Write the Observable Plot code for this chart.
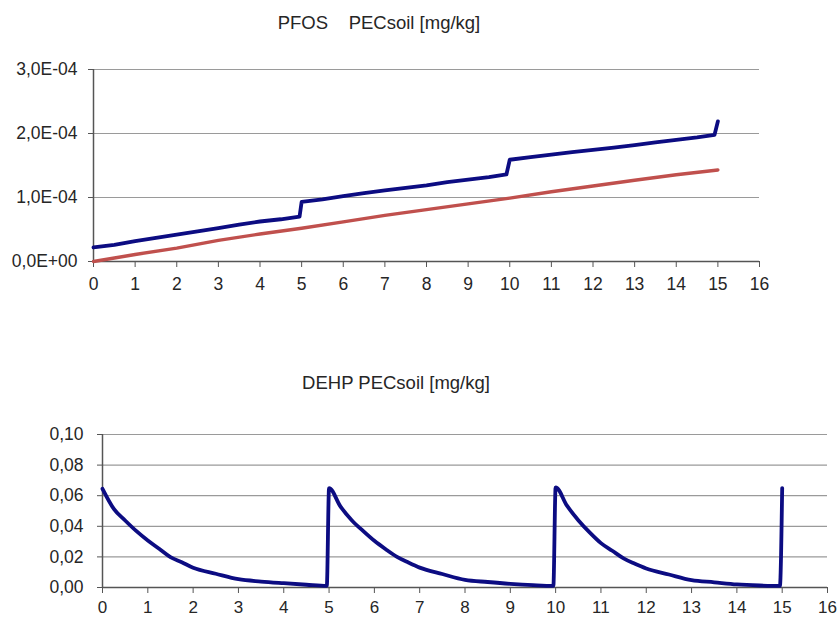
<!DOCTYPE html>
<html>
<head>
<meta charset="utf-8">
<script src="https://cdn.jsdelivr.net/npm/d3@7"></script>
<script src="https://cdn.jsdelivr.net/npm/@observablehq/plot@0.6"></script>
<style>
  html, body { margin: 0; padding: 0; background: #fff; }
  #wrap { position: relative; width: 838px; height: 618px; font-family: "Liberation Sans", Arial, sans-serif; color: #262626; }
  .title { position: absolute; font-size: 18.5px; white-space: pre; transform: translate(-50%, -50%); line-height: 1; }
  .chart { position: absolute; left: 0; }
</style>
</head>
<body>
<div id="wrap">
  <div class="title" id="t1" style="left:379px; top:23px;"></div>
  <div class="chart" id="c1" style="top:0px;"></div>
  <div class="title" id="t2" style="left:396px; top:383px;"></div>
  <div class="chart" id="c2" style="top:330px;"></div>
</div>
<script>
// ---- Data ----
const pfosTitle = "PFOS    PECsoil [mg/kg]";
const dehpTitle = "DEHP PECsoil [mg/kg]";
const xTicks = [0, 1, 2, 3, 4, 5, 6, 7, 8, 9, 10, 11, 12, 13, 14, 15, 16];

// PFOS – upper (blue) series
const pfosBlueX = [0, 0.5, 1, 1.5, 2, 2.5, 3, 3.5, 4, 4.5, 4.95, 5.0, 5.5, 6, 6.5, 7, 7.5, 8, 8.5, 9, 9.5, 9.92, 10.0, 10.5, 11, 11.5, 12, 12.5, 13, 13.5, 14, 14.5, 14.92, 15.0];
const pfosBlueY = [2.2e-5, 2.6e-5, 3.2e-5, 3.7e-5, 4.2e-5, 4.7e-5, 5.2e-5, 5.75e-5, 6.25e-5, 6.6e-5, 7.0e-5, 9.3e-5, 9.7e-5, 1.02e-4, 1.07e-4, 1.11e-4, 1.15e-4, 1.19e-4, 1.24e-4, 1.28e-4, 1.32e-4, 1.36e-4, 1.59e-4, 1.63e-4, 1.67e-4, 1.71e-4, 1.745e-4, 1.78e-4, 1.82e-4, 1.86e-4, 1.90e-4, 1.94e-4, 1.98e-4, 2.19e-4];
// PFOS – lower (red) series
const pfosRedX = [0, 1, 2, 3, 4, 5, 6, 7, 8, 9, 10, 11, 12, 13, 14, 15];
const pfosRedY = [0.0, 1.1e-5, 2.1e-5, 3.3e-5, 4.3e-5, 5.2e-5, 6.2e-5, 7.2e-5, 8.1e-5, 9.0e-5, 9.9e-5, 1.09e-4, 1.18e-4, 1.27e-4, 1.355e-4, 1.43e-4];
const pfosYTicks = [0, 1e-4, 2e-4, 3e-4];

// DEHP series
const dehpX = [0, 0.25, 0.5, 0.75, 1, 1.25, 1.5, 1.75, 2, 2.5, 3, 3.5, 4, 4.5, 4.95,
               5.0, 5.25, 5.5, 5.75, 6, 6.25, 6.5, 6.75, 7, 7.5, 8, 8.5, 9, 9.5, 9.95,
               10.0, 10.25, 10.5, 10.75, 11, 11.25, 11.5, 11.75, 12, 12.5, 13, 13.5, 14, 14.5, 14.95, 15.0];
const dehpY = [0.0645, 0.0514, 0.0438, 0.0368, 0.0307, 0.0253, 0.0198, 0.0165, 0.0129, 0.0090, 0.0054, 0.0039, 0.0028, 0.0018, 0.0010,
               0.0650, 0.0530, 0.0440, 0.0370, 0.0305, 0.0250, 0.0200, 0.0163, 0.0130, 0.0088, 0.0050, 0.0036, 0.0024, 0.0015, 0.0010,
               0.0655, 0.0535, 0.0440, 0.0360, 0.0290, 0.0240, 0.0190, 0.0155, 0.0124, 0.0085, 0.0048, 0.0034, 0.0020, 0.0013, 0.0010, 0.0650];
const dehpYTicks = [0, 0.02, 0.04, 0.06, 0.08, 0.10];

// ---- Build tables ----
const blue = pfosBlueX.map((x, i) => ({x, y: pfosBlueY[i]}));
const red = pfosRedX.map((x, i) => ({x, y: pfosRedY[i]}));
const dehp = dehpX.map((x, i) => ({x, y: dehpY[i]}));

const sciFmt = d => d === 0 ? "0,0E+00" : (d / 1e-4).toFixed(1).replace(".", ",") + "E-04";
const decFmt = d => d.toFixed(2).replace(".", ",");

const FS = 17.5;
const baseStyle = {fontFamily: "'Liberation Sans', Arial, sans-serif", fontSize: FS + "px", color: "#262626", background: "transparent", overflow: "visible"};

document.getElementById("t1").textContent = pfosTitle;
document.getElementById("t2").textContent = dehpTitle;

const p1 = Plot.plot({
  width: 838, height: 300,
  marginLeft: 93, marginRight: 79, marginTop: 69, marginBottom: 39,
  style: baseStyle,
  x: {domain: [0, 16]},
  y: {domain: [0, 3e-4]},
  marks: [
    Plot.gridY(pfosYTicks, {stroke: "#9a9a9a", strokeOpacity: 1, strokeWidth: 1.2}),
    Plot.axisY(pfosYTicks, {tickFormat: sciFmt, tickSize: 5, tickPadding: 11, label: null, stroke: "#555", fontSize: FS, fill: "#262626"}),
    Plot.axisX(xTicks, {tickSize: 6, tickPadding: 10, label: null, stroke: "#555", fontSize: FS, fill: "#262626"}),
    Plot.ruleY([0], {stroke: "#555", strokeWidth: 1.5}),
    Plot.ruleX([0], {stroke: "#555", strokeWidth: 1.5}),
    Plot.line(red, {x: "x", y: "y", stroke: "#c0504d", strokeWidth: 3.4, strokeLinejoin: "round"}),
    Plot.line(blue, {x: "x", y: "y", stroke: "#0c0c82", strokeWidth: 3.8, strokeLinejoin: "round"})
  ]
});
document.getElementById("c1").appendChild(p1);

const p2 = Plot.plot({
  width: 838, height: 288,
  marginLeft: 102, marginRight: 11, marginTop: 104, marginBottom: 31,
  style: baseStyle,
  x: {domain: [0, 16]},
  y: {domain: [0, 0.1]},
  marks: [
    Plot.gridY(dehpYTicks, {stroke: "#9a9a9a", strokeOpacity: 1, strokeWidth: 1.2}),
    Plot.axisY(dehpYTicks, {tickFormat: decFmt, tickSize: 5, tickPadding: 14, label: null, stroke: "#555", fontSize: FS, fill: "#262626"}),
    Plot.axisX(xTicks, {tickSize: 6, tickPadding: 7, label: null, stroke: "#555", fontSize: 17, fill: "#262626"}),
    Plot.ruleY([0], {stroke: "#555", strokeWidth: 1.5}),
    Plot.ruleX([0], {stroke: "#555", strokeWidth: 1.5}),
    Plot.line(dehp, {x: "x", y: "y", stroke: "#0c0c82", strokeWidth: 3.8, strokeLinejoin: "round", curve: "monotone-x"})
  ]
});
document.getElementById("c2").appendChild(p2);
</script>
</body>
</html>
